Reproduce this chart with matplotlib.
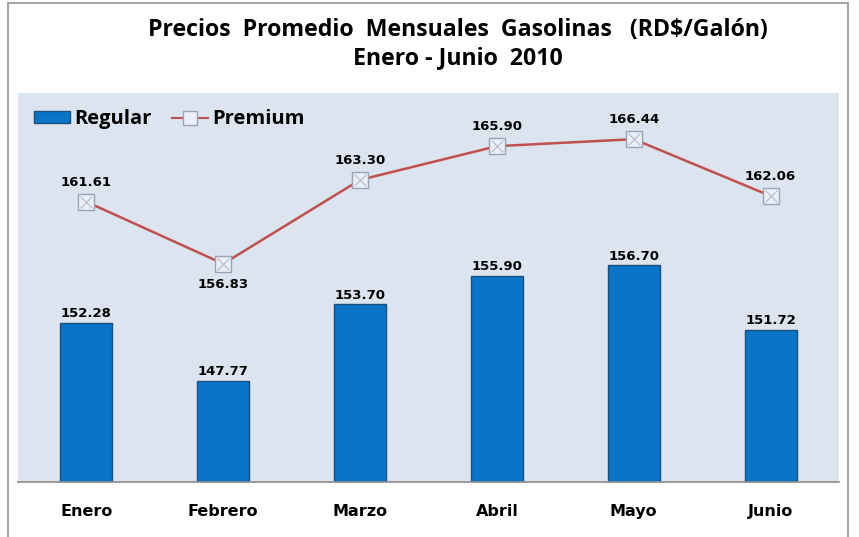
import matplotlib.pyplot as plt
from matplotlib.patches import Rectangle
from matplotlib.lines import Line2D

meses = ['Enero', 'Febrero', 'Marzo', 'Abril', 'Mayo', 'Junio']
regular = [152.28, 147.77, 153.70, 155.90, 156.70, 151.72]
premium = [161.61, 156.83, 163.30, 165.90, 166.44, 162.06]

fig = plt.figure(figsize=(8.59, 5.37), dpi=100)

# marco exterior del grafico
fig.patches.append(Rectangle((8/859, -0.05), 840/859, 1.0 - 3/537 + 0.05,
                             transform=fig.transFigure, fill=False,
                             edgecolor='#A6A6A6', lw=1.5))

ax = fig.add_axes([18/859, 1 - 482/537, 821/859, 389/537])
ax.set_facecolor('#DCE4F0')
x = range(len(meses))

ax.bar(x, regular, width=0.38, bottom=0, color='#0A74C8',
       edgecolor='#1B4F7C', linewidth=1.0, zorder=2)
ax.plot(x, premium, color='#C0504D', lw=1.8, zorder=3)
ax.plot(x, premium, ls='none', marker='s', ms=12, mfc='#EBEFF7',
        mec='#9AA3B5', mew=1.0, zorder=4)
ax.plot(x, premium, ls='none', marker='x', ms=9, mec='#B4BCCB',
        mew=0.8, zorder=5)

ax.set_ylim(140, 170)
ax.set_xlim(-0.5, 5.5)
ax.set_yticks([])
ax.set_xticks(list(x))
ax.set_xticklabels(meses, fontsize=11.5, fontweight='bold',
                   family='DejaVu Sans')
ax.tick_params(axis='x', length=0, pad=16)
for s in ['left', 'right', 'top']:
    ax.spines[s].set_visible(False)
ax.spines['bottom'].set_color('#8C8C8C')
ax.spines['bottom'].set_linewidth(1.2)

for i, v in enumerate(regular):
    ax.annotate('%.2f' % v, (i, v), xytext=(0, 2), textcoords='offset points',
                ha='center', va='bottom', fontsize=9.5, fontweight='bold')
for i, v in enumerate(premium):
    dy = -15 if i == 1 else 14
    ax.annotate('%.2f' % v, (i, v), xytext=(0, dy), textcoords='offset points',
                ha='center', va='center', fontsize=9.5, fontweight='bold')

handles = [Rectangle((0, 0), 1, 1, facecolor='#0A74C8', edgecolor='#1B4F7C'),
           Line2D([], [], color='#C0504D', lw=1.5, marker='s', ms=10,
                  mfc='#EBEFF7', mec='#9AA3B5')]
leg = ax.legend(handles, ['Regular', 'Premium'], loc='upper left', ncol=2,
                frameon=False, prop={'family': 'Open Sans', 'weight': 'bold', 'size': 14.5},
                bbox_to_anchor=(0.0, 1.0), handlelength=1.8, handleheight=0.5,
                handletextpad=0.2, columnspacing=1.0, borderaxespad=0.4)

fig.text(0.533, 1 - 30/537, 'Precios  Promedio  Mensuales  Gasolinas   (RD$/Galón)',
         ha='center', va='center', fontsize=16.7, fontweight='bold',
         family='Open Sans')
fig.text(0.533, 1 - 58/537, 'Enero - Junio  2010', ha='center', va='center',
         fontsize=16.7, fontweight='bold', family='Open Sans')

fig.savefig('out.png', dpi=100)
